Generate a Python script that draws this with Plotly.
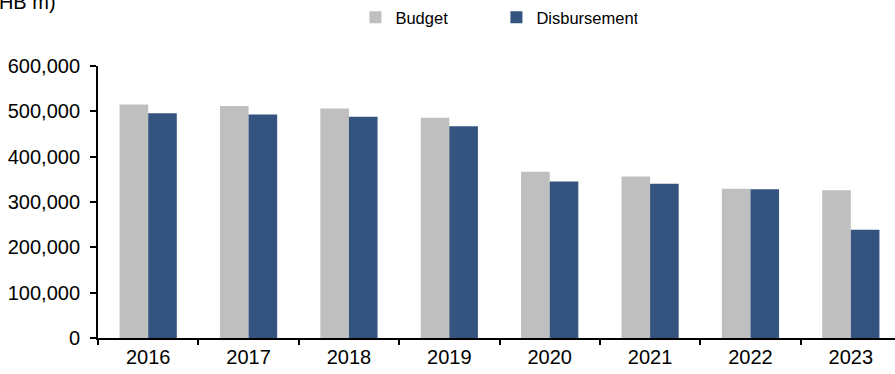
import plotly.graph_objects as go

years = ["2016", "2017", "2018", "2019", "2020", "2021", "2022", "2023"]
budget = [515000, 512000, 506000, 486000, 367000, 356000, 329000, 326000]
disbursement = [496000, 493000, 488000, 467000, 345000, 340000, 328000, 239000]
y_ticks = [0, 100000, 200000, 300000, 400000, 500000, 600000]

FONT = "Arial, 'Liberation Sans', sans-serif"

fig = go.Figure()
fig.add_trace(go.Bar(x=years, y=budget, name="Budget",
                     marker=dict(color="#BFBFBF", line=dict(width=0))))
fig.add_trace(go.Bar(x=years, y=disbursement, name="Disbursement",
                     marker=dict(color="#34537F", line=dict(width=0))))

fig.update_layout(
    width=895, height=374,
    margin=dict(l=98, r=0, t=66, b=36),
    paper_bgcolor="white", plot_bgcolor="white",
    font=dict(family=FONT, size=20, color="black"),
    barmode="group", bargap=0.43, bargroupgap=0,
    showlegend=True,
    legend=dict(orientation="h", x=0.323, y=1.0, yref="container",
                xanchor="left", yanchor="top",
                font=dict(size=16.5), entrywidth=96, entrywidthmode="pixels",
                itemwidth=30, traceorder="normal"),
    xaxis=dict(type="category", range=[-0.5, 7.44],
               showline=True, linecolor="black", linewidth=2,
               ticks="outside", ticklen=5, tickwidth=2, tickcolor="black",
               tickson="boundaries", showgrid=False, zeroline=False,
               tickfont=dict(size=20)),
    yaxis=dict(range=[0, 600000], tickvals=y_ticks, tickformat=",",
               showline=True, linecolor="black", linewidth=2,
               ticks="outside", ticklen=6, tickwidth=2, tickcolor="black",
               ticklabelstandoff=6,
               showgrid=False, zeroline=False,
               tickfont=dict(size=20)),
    annotations=[dict(text="(THB m)", xref="paper", yref="paper",
                      x=-120 / 797, y=1 + 77 / 271.5, xanchor="left",
                      yanchor="top", showarrow=False,
                      font=dict(size=20))],
)

fig.write_html("out.html")
